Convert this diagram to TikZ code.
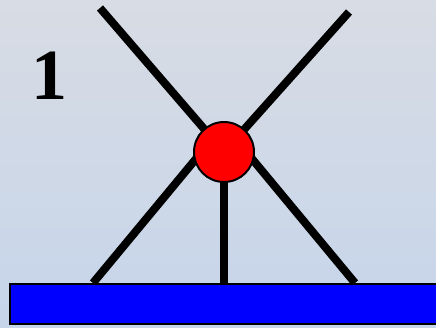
\documentclass[tikz,border=0pt]{standalone}
\usepackage{fontspec}
\setmainfont{Liberation Serif}
\usetikzlibrary{positioning, calc}
\definecolor{bgtop}{HTML}{D8DCE4}
\definecolor{bgbottom}{HTML}{C6D5EA}
\definecolor{bondred}{HTML}{FF0000}
\definecolor{surfblue}{HTML}{0000FF}

\begin{document}
\begin{tikzpicture}[x=1pt, y=-1pt,
    leg/.style={line width=8pt, black},
    atom/.style={circle, draw=black, line width=2pt, fill=bondred, minimum size=60pt, inner sep=0pt},
    surface/.style={draw=black, line width=2pt, fill=surfblue}]

  % background
  \shade[top color=bgtop, bottom color=bgbottom] (0,0) rectangle (436,327);
  \useasboundingbox (0,0) rectangle (436,327);

  % label
  \node[font=\fontsize{72}{72}\selectfont\bfseries] (num) at (49,76) {1};

  % ends of the legs
  \coordinate (top left) at (100,8);
  \coordinate (top right) at (349,12);
  \coordinate (apex) at (224,125);
  \coordinate (foot left) at (93,283);
  \coordinate (foot mid) at (224,283);
  \coordinate (foot right) at (355,283);
  \coordinate (centre) at (224,152);

  % surface
  \draw[surface] (10,284) rectangle (440,324);

  \draw[leg] (top left) -- (centre);
  \draw[leg] (top right) -- (centre);
  \draw[leg] (apex) -- (foot left);
  \draw[leg] (apex) -- (foot right);
  \draw[leg] (centre) -- (foot mid);

  % atom
  \node[atom] (ball) at (centre) {};
\end{tikzpicture}
\end{document}
